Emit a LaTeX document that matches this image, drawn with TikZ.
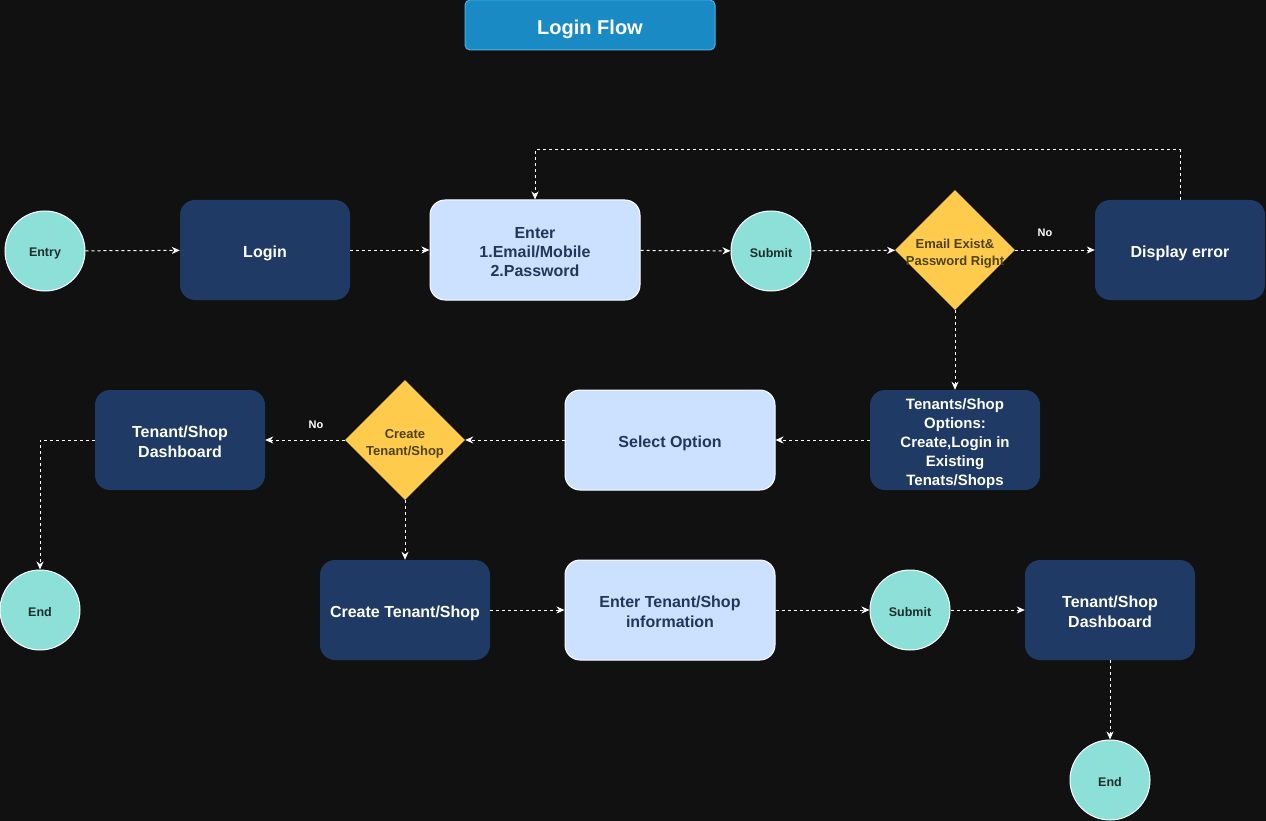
\documentclass[tikz,border=0pt]{standalone}
\usepackage{fontspec}
\setmainfont{Liberation Sans}
\usetikzlibrary{shapes.geometric,arrows.meta}
\definecolor{bgc}{HTML}{111111}
\definecolor{navy}{HTML}{1F3A64}
\definecolor{pale}{HTML}{CCE0FF}
\definecolor{tealc}{HTML}{8DE0D7}
\definecolor{gold}{HTML}{FFCB4C}
\definecolor{titleblue}{HTML}{1A8AC4}
\definecolor{titleedge}{HTML}{52AEE3}
\definecolor{darktext}{HTML}{233659}
\definecolor{oliv}{HTML}{4F4314}
\definecolor{circtext}{HTML}{1E2D2D}
\newcommand{\toppad}[1]{\rule{0pt}{#1}}
\tikzset{
  lift/.style={execute at begin node={\rule{0pt}{#1}}},
  navybox/.style={rectangle, rounded corners=15pt, fill=navy, draw=none, text=white,
    font=\bfseries\fontsize{16}{20}\selectfont, minimum width=170pt, minimum height=100pt,
    align=center, inner sep=0pt, lift=19pt},
  palebox/.style={rectangle, rounded corners=15pt, fill=pale, draw=white, line width=1pt,
    text=darktext, font=\bfseries\fontsize{16}{20}\selectfont, minimum width=210pt,
    minimum height=100pt, align=center, inner sep=0pt, lift=19pt},
  circ/.style={circle, fill=tealc, draw=white, line width=1pt, minimum size=80pt,
    inner sep=0pt, text=circtext, font=\bfseries\fontsize{12.5}{15}\selectfont,
    lift=13pt},
  dia/.style={diamond, aspect=1, fill=gold, draw=none, minimum width=120pt,
    minimum height=120pt, inner sep=0pt},
  diatext/.style={text=oliv, font=\bfseries\fontsize{13}{17}\selectfont, align=center,
    inner sep=0pt},
  lbl/.style={text=white, font=\bfseries\fontsize{11}{13}\selectfont, inner sep=0pt},
  conn/.style={draw=white, line width=1pt, dash pattern=on 3pt off 3pt,
    -{Stealth[length=8pt,width=7pt,inset=2.5pt]}},
}
\begin{document}
\begin{tikzpicture}[x=1pt,y=-1pt]
\fill[bgc] (0,0) rectangle (1266,821);
\useasboundingbox (0,0) rectangle (1266,821);

% title
\node[rectangle, rounded corners=5pt, fill=titleblue, draw=titleedge, line width=1pt,
  minimum width=250pt, minimum height=50pt, text=white, inner sep=0pt, lift=23pt,
  font=\bfseries\fontsize{20}{24}\selectfont] (title) at (590,25) {Login Flow};

% row 1
\node[circ] (entry) at (45,251) {Entry};
\node[navybox] (login) at (265,250) {Login};
\node[palebox, font=\bfseries\fontsize{16}{19}\selectfont] (enter) at (535,250)
  {\toppad{16pt}Enter\\1.Email/Mobile\\2.Password};
\node[circ] (submit1) at (771,251) {Submit};
\node[dia] (d1) at (955,250) {};
\node[diatext] (d1t) at (955,254) {Email Exist\&\\Password Right};
\node[navybox] (err) at (1180,250) {Display error};
\node[lbl] (no1) at (1045,233) {No};
\coordinate (fbL) at (535,150);

% row 2
\node[navybox, font=\bfseries\fontsize{15}{19}\selectfont, lift=20pt] (opts) at (955,440)
  {\toppad{19pt}Tenants/Shop\\Options:\\Create,Login in\\Existing\\Tenats/Shops};
\node[palebox] (select) at (670,440) {Select Option};
\node[dia] (d2) at (405,440) {};
\node[diatext] (d2t) at (405,444) {Create\\Tenant/Shop};
\node[navybox] (dash1) at (180,440) {\toppad{16pt}Tenant/Shop\\Dashboard};
\node[lbl] (no2) at (316,425) {No};
\node[circ] (end1) at (40,610) {End};

% row 3
\node[navybox] (create) at (405,610) {Create Tenant/Shop};
\node[palebox] (info) at (670,610) {\toppad{16pt}Enter Tenant/Shop\\information};
\node[circ] (submit2) at (910,610) {Submit};
\node[navybox] (dash2) at (1110,610) {\toppad{16pt}Tenant/Shop\\Dashboard};
\node[circ] (end2) at (1110,780) {End};

% connectors
\draw[conn] (entry) -- (login);
\draw[conn] (login) -- (enter);
\draw[conn] (enter) -- (submit1);
\draw[conn] (submit1) -- (d1);
\draw[conn] (d1) -- (err);
\draw[conn] (err.north) |- (fbL) -- (enter.north);
\draw[conn] (d1.south) -- (opts.north);
\draw[conn] (opts) -- (select);
\draw[conn] (select) -- (d2);
\draw[conn] (d2) -- (dash1);
\draw[conn] (dash1.west) -| (end1.north);
\draw[conn] (d2.south) -- (create.north);
\draw[conn] (create) -- (info);
\draw[conn] (info) -- (submit2);
\draw[conn] (submit2) -- (dash2);
\draw[conn] (dash2) -- (end2);
\end{tikzpicture}
\end{document}
